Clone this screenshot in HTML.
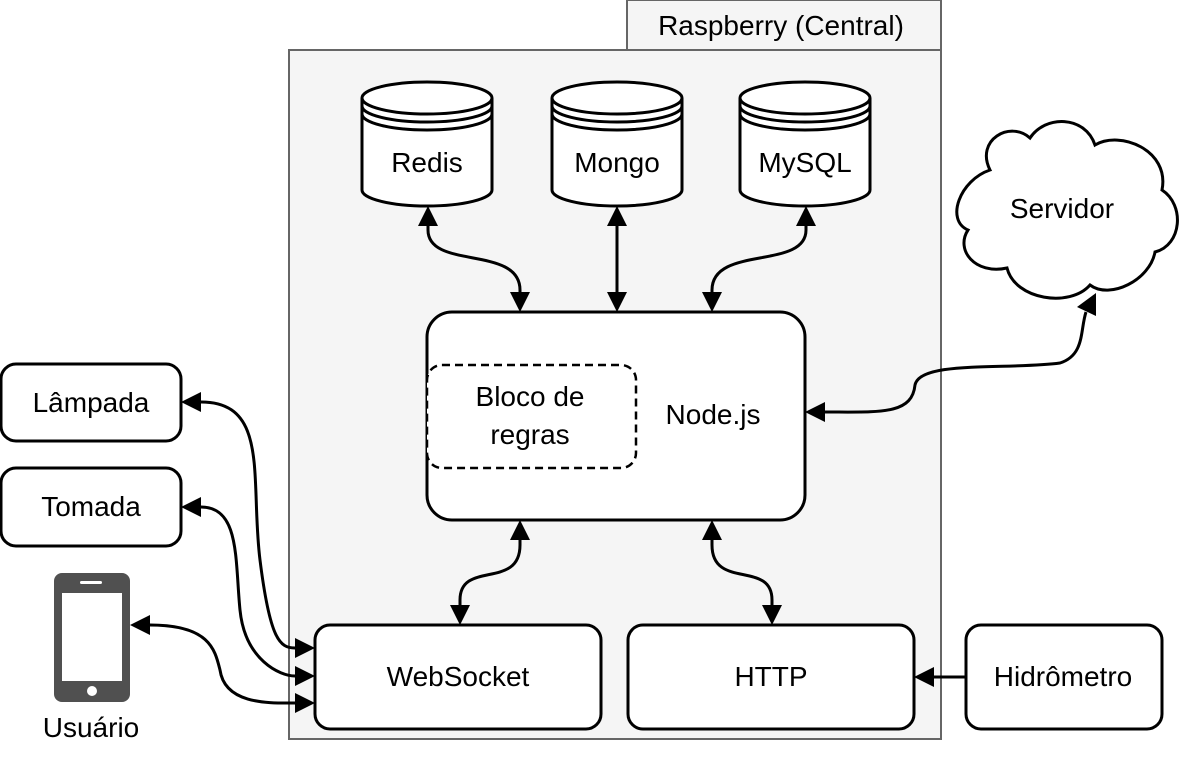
<!DOCTYPE html>
<html><head><meta charset="utf-8"><style>html,body{margin:0;padding:0;background:#fff}svg{display:block}</style></head><body>
<svg width="1188" height="758" viewBox="0 0 1188 758" xmlns="http://www.w3.org/2000/svg" font-family="'Liberation Sans', Arial, Helvetica, sans-serif">
<rect x="289" y="50" width="652" height="689" fill="#f5f5f5" stroke="#666" stroke-width="2"/>
<rect x="627" y="0" width="314" height="50" fill="#f5f5f5" stroke="#666" stroke-width="2"/>
<text x="781" y="35" font-size="28" text-anchor="middle" font-family="'Liberation Sans', sans-serif">Raspberry (Central)</text>
<g stroke="#000" stroke-width="3" fill="#fff">
<path d="M362,98 A65,16 0 0 1 492,98 V190 A65,16 0 0 1 362,190 Z"/>
<path d="M362,98 A65,16 0 0 0 492,98 M362,106 A65,16 0 0 0 492,106 M362,114 A65,16 0 0 0 492,114" fill="none"/>
<path d="M552,98 A65,16 0 0 1 682,98 V190 A65,16 0 0 1 552,190 Z"/>
<path d="M552,98 A65,16 0 0 0 682,98 M552,106 A65,16 0 0 0 682,106 M552,114 A65,16 0 0 0 682,114" fill="none"/>
<path d="M740,98 A65,16 0 0 1 870,98 V190 A65,16 0 0 1 740,190 Z"/>
<path d="M740,98 A65,16 0 0 0 870,98 M740,106 A65,16 0 0 0 870,106 M740,114 A65,16 0 0 0 870,114" fill="none"/>
<rect x="427" y="312" width="378" height="208" rx="25"/>
<rect x="427" y="365" width="209" height="103" rx="15" stroke-dasharray="8,5" stroke-width="2.5"/>
<rect x="315" y="625" width="286" height="104" rx="15"/>
<rect x="628" y="625" width="286" height="104" rx="15"/>
<rect x="966" y="625" width="196" height="104" rx="15"/>
<rect x="1" y="364" width="180" height="77" rx="15"/>
<rect x="1" y="468" width="180" height="78" rx="15"/>
<path d="M990,170 C975,140 1010,120 1030,138 C1045,115 1085,115 1095,145 C1120,130 1170,150 1162,190 C1185,205 1182,245 1155,252 C1150,280 1110,300 1090,285 C1070,308 1015,300 1007,268 C975,275 955,250 968,230 C945,220 960,180 990,170 Z"/>
</g>
<rect x="54" y="573" width="76" height="129" rx="8" fill="#505050"/>
<rect x="62" y="593" width="60" height="88" fill="#fff"/>
<rect x="80" y="581" width="22" height="3" rx="1.5" fill="#fff"/>
<circle cx="92" cy="691" r="5" fill="#fff"/>
<g font-size="28" text-anchor="middle" font-family="'Liberation Sans', sans-serif" fill="#000">
<text x="427" y="172">Redis</text>
<text x="617" y="172">Mongo</text>
<text x="805" y="172">MySQL</text>
<text x="1062" y="218">Servidor</text>
<text x="713" y="424">Node.js</text>
<text x="530" y="406">Bloco de</text>
<text x="530" y="444">regras</text>
<text x="458" y="686">WebSocket</text>
<text x="771" y="686">HTTP</text>
<text x="1063" y="686">Hidrômetro</text>
<text x="91" y="412">Lâmpada</text>
<text x="91" y="516">Tomada</text>
<text x="91" y="737">Usuário</text>
</g>
<g stroke="#000" stroke-width="3" fill="none">
<path d="M428,226 V230 C428,270 520,245 520,290 V292"/>
<path d="M617,226 V292"/>
<path d="M806,226 V230 C806,270 712,245 712,290 V292"/>
<path d="M520,540 V545 C520,590 460,560 460,600 V605"/>
<path d="M712,540 V545 C712,590 772,560 772,600 V605"/>
<path d="M1086,312 C1080,330 1085,355 1060,363 C1010,370 920,360 915,385 C912,415 880,412 825,412"/>
<path d="M201,402 C270,402 250,480 260,560 C270,640 280,648 295,648"/>
<path d="M201,507 C240,507 235,560 240,610 C245,660 280,676 295,676"/>
<path d="M150,625 C210,625 215,650 220,670 C225,705 270,703 295,703"/>
<path d="M966,677 H934"/>
</g>
<g fill="#000">
<path d="M428,206 L418,226 L438,226 Z"/><path d="M520,312 L510,292 L530,292 Z"/>
<path d="M617,206 L607,226 L627,226 Z"/><path d="M617,312 L607,292 L627,292 Z"/>
<path d="M806,206 L796,226 L816,226 Z"/><path d="M712,312 L702,292 L722,292 Z"/>
<path d="M520,520 L510,540 L530,540 Z"/><path d="M460,625 L450,605 L470,605 Z"/>
<path d="M712,520 L702,540 L722,540 Z"/><path d="M772,625 L762,605 L782,605 Z"/>
<path d="M805,412 L825,402 L825,422 Z"/>
<path d="M1096,293 L1077,307 L1096,316 Z"/>
<path d="M181,402 L201,392 L201,412 Z"/><path d="M315,648 L295,638 L295,658 Z"/>
<path d="M181,507 L201,497 L201,517 Z"/><path d="M315,676 L295,666 L295,686 Z"/>
<path d="M130,625 L150,615 L150,635 Z"/><path d="M315,703 L295,693 L295,713 Z"/>
<path d="M914,677 L934,667 L934,687 Z"/>
</g>
</svg>
</body></html>
